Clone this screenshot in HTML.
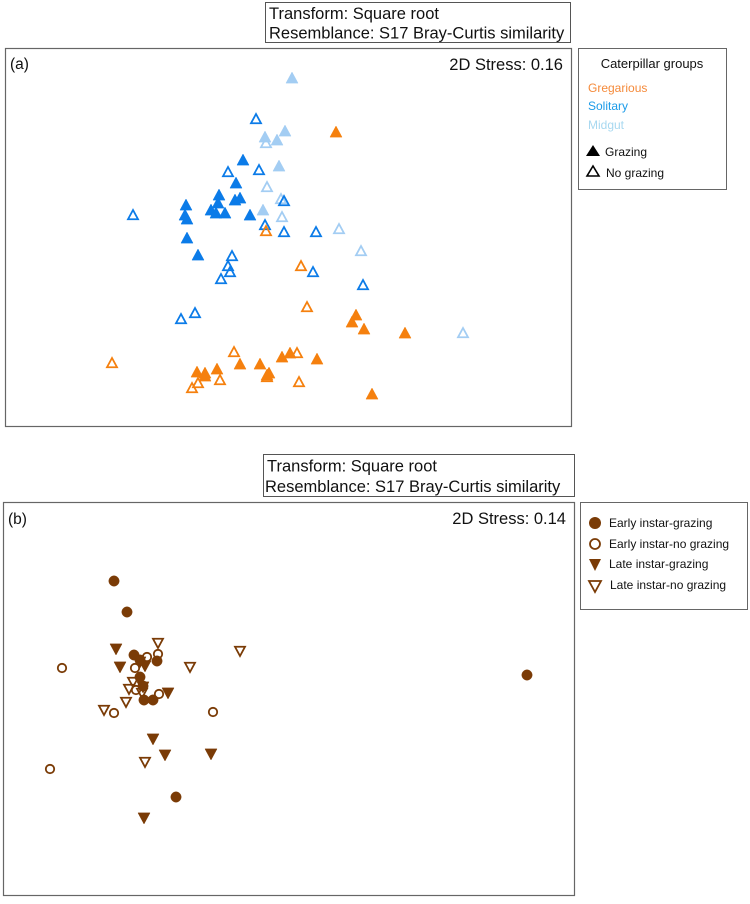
<!DOCTYPE html>
<html><head><meta charset="utf-8"><style>
html,body{margin:0;padding:0;background:#fff;}
body{width:750px;height:899px;overflow:hidden;font-family:"Liberation Sans",sans-serif;}
svg text{font-family:"Liberation Sans",sans-serif;}
</style></head><body>
<svg id="chart" width="750" height="899" viewBox="0 0 750 899" xmlns="http://www.w3.org/2000/svg">
  <g>
    <rect x="265.5" y="2.5" width="305" height="40" fill="#fff" stroke="#555" stroke-width="1"/>
    <text x="269" y="19" font-size="16.5" fill="#111">Transform: Square root</text>
    <text x="269" y="38.5" font-size="16.5" fill="#111">Resemblance: S17 Bray-Curtis similarity</text>
  </g>
  <rect x="5.5" y="48.5" width="566" height="378" fill="none" stroke="#666" stroke-width="1.2"/>
  <text x="10" y="69" font-size="15.5" fill="#111">(a)</text>
  <text x="563" y="70" font-size="16.5" fill="#111" text-anchor="end">2D Stress: 0.16</text>
  <g>
    <rect x="578.5" y="48.5" width="148" height="141" fill="#fff" stroke="#666" stroke-width="1"/>
    <text x="652" y="68" font-size="13" text-anchor="middle" fill="#111">Caterpillar groups</text>
    <text x="588" y="92" font-size="12" fill="#f58a3a">Gregarious</text>
    <text x="588" y="110" font-size="12" fill="#1b9be8">Solitary</text>
    <text x="588" y="129" font-size="12" fill="#a7d8f0">Midgut</text>
    <polygon points="593,145 586,156 600,156" fill="#000"/>
    <text x="605" y="156" font-size="12" fill="#111">Grazing</text>
    <polygon points="593,166 587,176 599,176" fill="none" stroke="#000" stroke-width="1.6"/>
    <text x="606" y="177" font-size="12" fill="#111">No grazing</text>
  </g>
  <g id="marks-a"></g>

  <g>
    <rect x="263.5" y="454.5" width="311" height="42" fill="#fff" stroke="#555" stroke-width="1"/>
    <text x="267" y="471.5" font-size="16.5" fill="#111">Transform: Square root</text>
    <text x="265" y="492" font-size="16.5" fill="#111">Resemblance: S17 Bray-Curtis similarity</text>
  </g>
  <rect x="3.5" y="502.5" width="571" height="393" fill="none" stroke="#666" stroke-width="1.2"/>
  <text x="8" y="524" font-size="15.5" fill="#111">(b)</text>
  <text x="566" y="524" font-size="16.5" fill="#111" text-anchor="end">2D Stress: 0.14</text>
  <g>
    <rect x="580.5" y="502.5" width="167" height="107" fill="#fff" stroke="#666" stroke-width="1"/>
    <circle cx="595" cy="523" r="6" fill="#7a3b06"/>
    <text x="609" y="527" font-size="12" fill="#111">Early instar-grazing</text>
    <circle cx="595" cy="544" r="5" fill="none" stroke="#7a3b06" stroke-width="1.8"/>
    <text x="609" y="548" font-size="12" fill="#111">Early instar-no grazing</text>
    <polygon points="589,559 601,559 595,571" fill="#7a3b06"/>
    <text x="609" y="568" font-size="12" fill="#111">Late instar-grazing</text>
    <polygon points="589,581 601,581 595,592" fill="none" stroke="#7a3b06" stroke-width="1.8"/>
    <text x="610" y="589" font-size="12" fill="#111">Late instar-no grazing</text>
  </g>
  <g id="marks-b"></g>
</svg>
<script>
// Panel (a) MDS coordinates [MDS1, MDS2]
const midgutGrazingX = [0.04,-0.23,-0.11,-0.03,-0.09,-0.25];
const midgutGrazingY = [1.37,0.78,0.75,0.84,0.49,0.05];
const midgutNoGrazingX = [-0.22,-0.21,-0.07,-0.06,0.51,0.73,1.75];
const midgutNoGrazingY = [0.72,0.28,0.16,-0.02,-0.14,-0.36,-1.18];
const solitaryGrazingX = [-0.45,-0.52,-0.69,-0.48,-0.53,-1.02,-0.70,-0.77,-0.72,-0.63,-0.38,-1.03,-1.01,-1.01,-0.90];
const solitaryGrazingY = [0.55,0.32,0.20,0.17,0.15,0.10,0.12,0.05,0.02,0.02,0,0,-0.04,-0.23,-0.40];
const solitaryNoGrazingX = [-0.32,-0.60,-0.29,-0.04,-1.55,-0.23,-0.04,0.28,-0.56,-0.60,-0.58,-0.67,0.25,0.75,-0.93,-1.07];
const solitaryNoGrazingY = [0.96,0.43,0.45,0.14,0,-0.10,-0.17,-0.17,-0.41,-0.51,-0.57,-0.64,-0.57,-0.70,-0.98,-1.04];
const gregGrazingX = [0.48,0.68,0.64,0.76,1.17,-0.91,-0.83,-0.71,-0.48,-0.28,-0.19,-0.21,-0.06,0.02,0.29,0.84,-0.83];
const gregGrazingY = [0.83,-1.00,-1.07,-1.14,-1.18,-1.57,-1.61,-1.54,-1.49,-1.49,-1.58,-1.60,-1.42,-1.38,-1.44,-1.79,-1.58];
const gregNoGrazingX = [-0.22,0.13,0.19,-1.76,-0.54,0.09,-0.68,-0.90,-0.96,0.11,-0.21];
const gregNoGrazingY = [-0.16,-0.51,-0.92,-1.48,-1.37,-1.38,-1.65,-1.68,-1.73,-1.67,-1.62];

// Panel (b) MDS coordinates
const earlyGrazingX = [-1.76,-1.63,-1.56,-1.50,-1.33,-1.50,-1.47,-1.46,-1.37,-1.14,2.37];
const earlyGrazingY = [1.19,0.88,0.45,0.40,0.39,0.23,0.14,0,0,-0.97,0.25];
const earlyNoGrazingX = [-2.28,-1.43,-1.32,-1.55,-1.54,-1.31,-1.76,-0.77,-2.40];
const earlyNoGrazingY = [0.32,0.43,0.46,0.32,0.10,0.06,-0.13,-0.12,-0.69];
const lateGrazingX = [-1.74,-1.70,-1.50,-1.45,-1.22,-1.37,-1.25,-0.79,-1.46,-1.47];
const lateGrazingY = [0.51,0.33,0.38,0.34,0.07,-0.39,-0.55,-0.54,-1.18,0.13];
const lateNoGrazingX = [-1.32,-0.50,-1.00,-1.57,-1.61,-1.64,-1.86,-1.45,-1.48];
const lateNoGrazingY = [0.57,0.49,0.33,0.18,0.11,-0.02,-0.10,-0.62,0.07];

const NS = "http://www.w3.org/2000/svg";
function xA(v){return 288 + v*100;}
function yA(v){return 215 - v*100;}
function xB(v){return 290 + v*100;}
function yB(v){return 700 - v*100;}

function triUp(g, cx, cy, color, filled, name){
  const p = document.createElementNS(NS,'polygon');
  const s = filled ? 6 : 5;
  p.setAttribute('points', (cx)+','+(cy-s)+' '+(cx-s)+','+(cy+s*0.85)+' '+(cx+s)+','+(cy+s*0.85));
  p.setAttribute('fill', filled ? color : '#fff');
  p.setAttribute('fill-opacity', filled ? 1 : 0);
  p.setAttribute('stroke', color);
  p.setAttribute('stroke-width', filled ? 0.5 : 1.8);
  
  
  g.appendChild(p);
}
function triDown(g, cx, cy, color, filled, name){
  const p = document.createElementNS(NS,'polygon');
  const s = filled ? 6 : 5;
  p.setAttribute('points', (cx-s)+','+(cy-s*0.85)+' '+(cx+s)+','+(cy-s*0.85)+' '+cx+','+(cy+s));
  p.setAttribute('fill', filled ? color : 'none');
  p.setAttribute('stroke', color);
  p.setAttribute('stroke-width', filled ? 0.5 : 1.8);
  
  
  g.appendChild(p);
}
function circ(g, cx, cy, color, filled, name){
  const c = document.createElementNS(NS,'circle');
  c.setAttribute('cx', cx); c.setAttribute('cy', cy);
  c.setAttribute('r', filled ? 5.2 : 4.2);
  c.setAttribute('fill', filled ? color : 'none');
  c.setAttribute('stroke', color);
  c.setAttribute('stroke-width', filled ? 0.5 : 1.8);
  
  
  g.appendChild(c);
}

const gA = document.getElementById('marks-a');
const ORANGE = '#f5800e', BLUE = '#0b7be8', LIGHT = '#a3cdf3', BROWN = '#7a3b06';
function drawA(xs, ys, color, filled, name){
  for (let i=0;i<xs.length;i++) triUp(gA, xA(xs[i]), yA(ys[i]), color, filled, name);
}
drawA(midgutNoGrazingX, midgutNoGrazingY, LIGHT, false, 'midgut-no-grazing-point');
drawA(midgutGrazingX, midgutGrazingY, LIGHT, true, 'midgut-grazing-point');
drawA(solitaryNoGrazingX, solitaryNoGrazingY, BLUE, false, 'solitary-no-grazing-point');
drawA(solitaryGrazingX, solitaryGrazingY, BLUE, true, 'solitary-grazing-point');
drawA(gregNoGrazingX, gregNoGrazingY, ORANGE, false, 'gregarious-no-grazing-point');
drawA(gregGrazingX, gregGrazingY, ORANGE, true, 'gregarious-grazing-point');

const gB = document.getElementById('marks-b');
for (let i=0;i<lateNoGrazingX.length;i++) triDown(gB, xB(lateNoGrazingX[i]), yB(lateNoGrazingY[i]), BROWN, false, 'late-instar-no-grazing-point');
for (let i=0;i<earlyNoGrazingX.length;i++) circ(gB, xB(earlyNoGrazingX[i]), yB(earlyNoGrazingY[i]), BROWN, false, 'early-instar-no-grazing-point');
for (let i=0;i<lateGrazingX.length;i++) triDown(gB, xB(lateGrazingX[i]), yB(lateGrazingY[i]), BROWN, true, 'late-instar-grazing-point');
for (let i=0;i<earlyGrazingX.length;i++) circ(gB, xB(earlyGrazingX[i]), yB(earlyGrazingY[i]), BROWN, true, 'early-instar-grazing-point');
</script>
</body></html>
